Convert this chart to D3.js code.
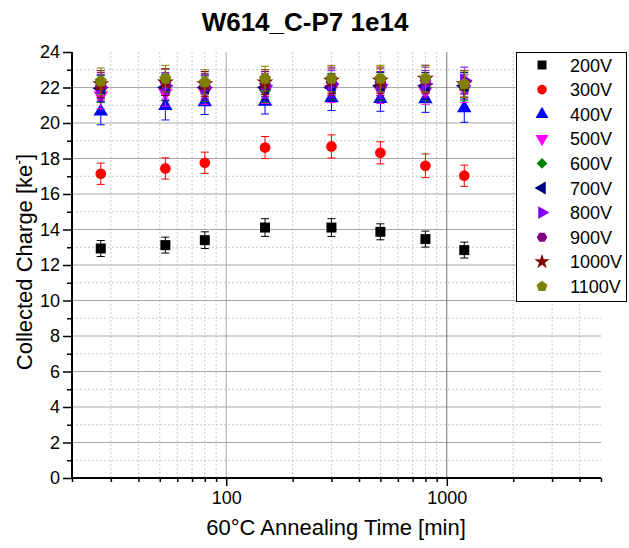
<!DOCTYPE html>
<html>
<head>
<meta charset="utf-8">
<script src="https://cdn.jsdelivr.net/npm/d3@7"></script>
<style>
  body { margin: 0; background: #fff; }
  text { font-family: "Liberation Sans", Arial, sans-serif; }
</style>
</head>
<body>
<svg width="629" height="548"></svg>
<script>
// annealing times [min]
var times = [27, 53, 80, 150, 300, 500, 800, 1200];

// bias voltages
var voltages = ["200V", "300V", "400V", "500V", "600V", "700V", "800V", "900V", "1000V", "1100V"];

// collected charge [ke-] per voltage
var q200  = [12.93, 13.12, 13.40, 14.11, 14.11, 13.87, 13.46, 12.84];
var q300  = [17.14, 17.44, 17.76, 18.62, 18.68, 18.32, 17.59, 17.03];
var q400  = [20.65, 20.97, 21.18, 21.21, 21.40, 21.36, 21.35, 20.84];
var q500  = [21.55, 21.70, 21.75, 21.80, 21.90, 21.85, 21.80, 21.90];
var q600  = [21.90, 22.00, 21.90, 21.85, 22.05, 22.00, 22.00, 22.00];
var q700  = [21.95, 22.00, 22.00, 22.00, 22.00, 22.10, 22.10, 22.10];
var q800  = [22.00, 22.10, 22.00, 22.10, 22.20, 22.15, 22.20, 22.40];
var q900  = [22.10, 22.30, 22.10, 22.20, 22.30, 22.30, 22.40, 22.20];
var q1000 = [22.20, 22.30, 22.20, 22.30, 22.40, 22.40, 22.50, 22.20];
var q1100 = [22.35, 22.50, 22.30, 22.50, 22.50, 22.50, 22.50, 22.20];

// error bars (half width)
var e200  = [0.45, 0.45, 0.47, 0.50, 0.50, 0.45, 0.45, 0.45];
var e300  = [0.60, 0.60, 0.60, 0.62, 0.65, 0.62, 0.67, 0.60];
var e400  = [0.75, 0.80, 0.70, 0.70, 0.70, 0.70, 0.75, 0.80];
var eHigh = [0.75, 0.75, 0.70, 0.70, 0.75, 0.75, 0.75, 0.75];

var colors = ["#000000", "#ff0000", "#0000ff", "#ff00ff", "#008000", "#000080", "#8000ff", "#800080", "#800000", "#808000"];

var svg = d3.select("svg");
var plotL = 72, plotR = 601, plotT = 52, plotB = 478;

var x = d3.scaleLog().domain([20, 5000]).range([plotL, plotR]);
var y = d3.scaleLinear().domain([0, 24]).range([plotB, plotT]);

//custom polygon symbols
function polygonSymbol(n, rot) {
  return {
    draw: function(ctx, size) {
      var r = Math.sqrt(size / (n * 0.5 * Math.sin(2 * Math.PI / n)));
      for (var i = 0; i < n; i++) {
        var a = rot + i * 2 * Math.PI / n;
        var px = r * Math.sin(a), py = -r * Math.cos(a);
        if (i == 0) ctx.moveTo(px, py); else ctx.lineTo(px, py);
      }
      ctx.closePath();
    }
  };
}

var shapes = [
  {type: d3.symbolSquare, size: 100, rot: 0},
  {type: d3.symbolCircle, size: 90, rot: 0},
  {type: d3.symbolTriangle, size: 90, rot: 0},
  {type: d3.symbolTriangle, size: 90, rot: 180},
  {type: d3.symbolSquare, size: 72, rot: 45},
  {type: d3.symbolTriangle, size: 90, rot: -90},
  {type: d3.symbolTriangle, size: 90, rot: 90},
  {type: polygonSymbol(6, Math.PI / 6), size: 90, rot: 0},
  {type: d3.symbolStar, size: 90, rot: 0},
  {type: polygonSymbol(5, 0), size: 95, rot: 0}
];

var series = [q200, q300, q400, q500, q600, q700, q800, q900, q1000, q1100].map(function(vals, i) {
  var errs = i == 0 ? e200 : i == 1 ? e300 : i == 2 ? e400 : eHigh;
  return {
    name: voltages[i],
    color: colors[i],
    shape: shapes[i],
    points: times.map(function(t, j) { return {t: t, q: vals[j], e: errs[j]}; })
  };
});

//grid lines
var grid = svg.append("g");
var minorX = [30, 40, 50, 60, 70, 80, 90, 200, 300, 400, 500, 600, 700, 800, 900, 2000, 3000, 4000];
grid.selectAll(".vminor").data(minorX).enter().append("line")
    .attr("x1", function(d) { return x(d); }).attr("x2", function(d) { return x(d); })
    .attr("y1", plotB).attr("y2", plotT)
    .style("stroke", "#c8c8c8").style("stroke-dasharray", "2,2");
grid.selectAll(".hminor").data(d3.range(1, 24, 2)).enter().append("line")
    .attr("x1", plotL).attr("x2", plotR)
    .attr("y1", function(d) { return y(d); }).attr("y2", function(d) { return y(d); })
    .style("stroke", "#c8c8c8").style("stroke-dasharray", "2,2");
grid.selectAll(".hmajor").data(d3.range(2, 24, 2)).enter().append("line")
    .attr("x1", plotL).attr("x2", plotR)
    .attr("y1", function(d) { return y(d); }).attr("y2", function(d) { return y(d); })
    .style("stroke", "#a8a8a8");
grid.selectAll(".vmajor").data([100, 1000]).enter().append("line")
    .attr("x1", function(d) { return x(d); }).attr("x2", function(d) { return x(d); })
    .attr("y1", plotB).attr("y2", plotT)
    .style("stroke", function(d) { return d == 1000 ? "#777" : "#a8a8a8"; });

//axes
var xMajor = d3.axisBottom(x).tickValues([100, 1000]).tickFormat(d3.format("d")).tickSize(8).tickPadding(5);
var xMinor = d3.axisBottom(x).tickValues([20].concat(minorX).concat([5000])).tickFormat("").tickSize(4);
var yMajor = d3.axisLeft(y).tickValues(d3.range(0, 25, 2)).tickSize(9).tickPadding(3);
var yMinor = d3.axisLeft(y).tickValues(d3.range(1, 24, 2)).tickFormat("").tickSize(5);

function styleAxis(g) {
  g.select(".domain").remove();
  g.selectAll("line").style("stroke", "#000").style("stroke-width", 1.5);
  g.selectAll("text").style("font-size", "18px").style("fill", "#000")
      .style("font-family", "'Liberation Sans', Arial, sans-serif");
}

svg.append("g").attr("transform", "translate(0," + plotB + ")").call(xMinor).call(styleAxis);
svg.append("g").attr("transform", "translate(0," + plotB + ")").call(xMajor).call(styleAxis);
svg.append("g").attr("transform", "translate(" + plotL + ",0)").call(yMinor).call(styleAxis);
svg.append("g").attr("transform", "translate(" + plotL + ",0)").call(yMajor).call(styleAxis);

svg.append("line").attr("x1", plotL).attr("x2", plotR).attr("y1", plotB).attr("y2", plotB)
    .style("stroke", "#000").style("stroke-width", 2);
svg.append("line").attr("x1", plotL).attr("x2", plotL).attr("y1", plotB).attr("y2", plotT)
    .style("stroke", "#000").style("stroke-width", 2);

//data
var sg = svg.append("g").selectAll("g").data(series).enter().append("g");

sg.each(function(s) {
  var g = d3.select(this);
  var bars = g.selectAll(".err").data(s.points).enter().append("g");
  bars.append("line")
      .attr("x1", function(d) { return x(d.t); }).attr("x2", function(d) { return x(d.t); })
      .attr("y1", function(d) { return y(d.q - d.e); }).attr("y2", function(d) { return y(d.q + d.e); })
      .style("stroke", s.color).style("stroke-width", 1);
  [-1, 1].forEach(function(sign) {
    bars.append("line")
        .attr("x1", function(d) { return x(d.t) - 4; }).attr("x2", function(d) { return x(d.t) + 4; })
        .attr("y1", function(d) { return y(d.q + sign * d.e); }).attr("y2", function(d) { return y(d.q + sign * d.e); })
        .style("stroke", s.color).style("stroke-width", 1);
  });
  g.selectAll(".mark").data(s.points).enter().append("path")
      .attr("d", d3.symbol().type(s.shape.type).size(s.shape.size))
      .attr("transform", function(d) { return "translate(" + x(d.t) + "," + y(d.q) + ") rotate(" + s.shape.rot + ")"; })
      .style("fill", s.color);
});

//legend
var legend = svg.append("g");
legend.append("rect").attr("x", 516.5).attr("y", 52.5).attr("width", 110).attr("height", 249)
    .style("fill", "#fff").style("stroke", "#000").style("stroke-width", 1);
var item = legend.selectAll(".item").data(series).enter().append("g")
    .attr("transform", function(d, i) { return "translate(0," + (65 + i * 24.6) + ")"; });
item.append("path")
    .attr("d", function(d) { return d3.symbol().type(d.shape.type).size(d.shape.size * 0.8)(); })
    .attr("transform", function(d) { return "translate(542,0) rotate(" + d.shape.rot + ")"; })
    .style("fill", function(d) { return d.color; });
item.append("text").attr("x", 570).attr("y", 6.5)
    .style("font-size", "18px")
    .text(function(d) { return d.name; });

//titles
svg.append("text").attr("x", 305).attr("y", 31).attr("text-anchor", "middle")
    .style("font-size", "26px").style("font-weight", "bold")
    .text("W614_C-P7 1e14");

svg.append("text").attr("x", 336).attr("y", 535).attr("text-anchor", "middle")
    .style("font-size", "22px")
    .text("60°C Annealing Time [min]");

var yt = svg.append("text").attr("transform", "translate(32,262) rotate(-90)")
    .attr("text-anchor", "middle").style("font-size", "22px");
yt.append("tspan").text("Collected Charge [ke");
yt.append("tspan").attr("dy", -8).style("font-size", "14px").text("-");
yt.append("tspan").attr("dy", 8).text("]");
</script>
</body>
</html>
